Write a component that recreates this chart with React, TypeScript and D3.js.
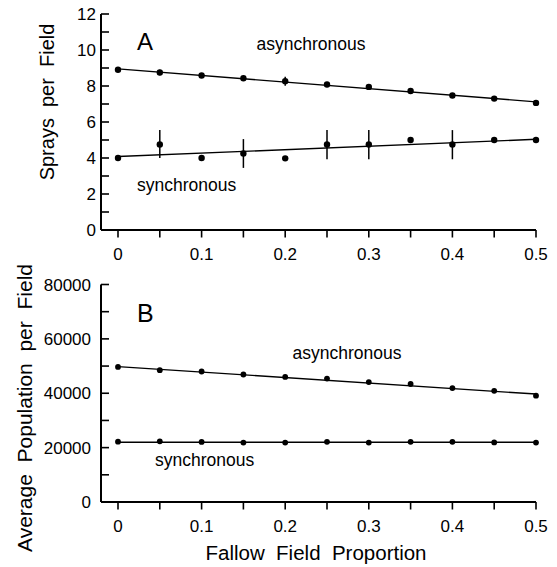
import React from "react";
import * as d3 from "d3";

const proportions = [0, 0.05, 0.1, 0.15, 0.2, 0.25, 0.3, 0.35, 0.4, 0.45, 0.5];

// Panel A: sprays per field
const spraysAsync = [8.9, 8.75, 8.58, 8.43, 8.27, 8.08, 7.95, 7.72, 7.47, 7.3, 7.06];
const spraysAsyncLow = [8.9, 8.6, 8.58, 8.43, 8.02, 8.08, 7.95, 7.58, 7.47, 7.2, 7.06];
const spraysAsyncHigh = [8.9, 8.9, 8.58, 8.43, 8.52, 8.08, 7.95, 7.86, 7.47, 7.4, 7.06];
const spraysSync = [4.0, 4.75, 4.0, 4.25, 3.98, 4.75, 4.75, 5.0, 4.75, 5.0, 5.0];
const spraysSyncLow = [4.0, 4.0, 4.0, 3.45, 3.98, 3.93, 3.93, 5.0, 3.93, 5.0, 5.0];
const spraysSyncHigh = [4.0, 5.55, 4.0, 5.05, 3.98, 5.55, 5.55, 5.0, 5.55, 5.0, 5.0];
const spraysAsyncFit = [8.95, 7.12];
const spraysSyncFit = [4.08, 5.04];

// Panel B: average population per field
const popAsync = [49700, 48500, 48000, 46900, 46000, 45400, 44100, 43400, 41900, 40900, 39100];
const popAsyncLow = [49700, 48100, 48000, 46900, 46000, 45400, 44100, 43400, 41900, 40300, 39100];
const popAsyncHigh = [49700, 48900, 48000, 46900, 46000, 45400, 44100, 43400, 41900, 41500, 39100];
const popSync = [22200, 22300, 22100, 21850, 21850, 22150, 21850, 22150, 22150, 21900, 21850];
const popAsyncFit = [49800, 39700];
const popSyncFit = [22000, 22000];

const xMajorTicks = [0, 0.1, 0.2, 0.3, 0.4, 0.5];
const xMinorTicks = [0, 0.05, 0.1, 0.15, 0.2, 0.25, 0.3, 0.35, 0.4, 0.45, 0.5];
const sprayTicks = [0, 2, 4, 6, 8, 10, 12];
const sprayMinor = [1, 3, 5, 7, 9, 11];
const popTicks = [0, 20000, 40000, 60000, 80000];
const popMinor = [10000, 30000, 50000, 70000];

const FONT = "'Liberation Sans', Arial, Helvetica, sans-serif";

type PanelProps = {
  yDomain: [number, number];
  yRange: [number, number];
  yTicks: number[];
  yMinor: number[];
  labelRight: number;
  tickLabelBaseline: number;
  series: { v: number[]; lo?: number[]; hi?: number[]; fit: number[] }[];
  r: number;
};

const x = d3.scaleLinear().domain([0, 0.5]).range([118, 536]);
const AXIS_LEFT = 101;
const AXIS_RIGHT = 536;

function Panel({ yDomain, yRange, yTicks, yMinor, labelRight, tickLabelBaseline, series, r }: PanelProps) {
  const y = d3.scaleLinear().domain(yDomain).range(yRange);
  const y0 = y(yDomain[0]);
  const line = d3
    .line<[number, number]>()
    .x((d) => x(d[0]))
    .y((d) => y(d[1]));
  return (
    <g>
      {/* axes */}
      <line x1={AXIS_LEFT} x2={AXIS_LEFT} y1={y(yDomain[1])} y2={y0} stroke="#000" strokeWidth={2} />
      <line x1={AXIS_LEFT} x2={AXIS_RIGHT} y1={y0} y2={y0} stroke="#000" strokeWidth={2} />
      {[...yTicks, ...yMinor].map((t) => (
        <line key={"yt" + t} x1={AXIS_LEFT} x2={AXIS_LEFT + 8} y1={y(t)} y2={y(t)} stroke="#000" strokeWidth={1.6} />
      ))}
      {yTicks.map((t) => (
        <text key={"yl" + t} x={labelRight} y={y(t)} dy="0.36em" textAnchor="end" fontSize={17} fontFamily={FONT}>
          {String(t)}
        </text>
      ))}
      {xMinorTicks.map((t) => (
        <line key={"xt" + t} x1={x(t)} x2={x(t)} y1={y0} y2={y0 + 7.5} stroke="#000" strokeWidth={1.6} />
      ))}
      {xMajorTicks.map((t) => (
        <text key={"xl" + t} x={x(t)} y={tickLabelBaseline} textAnchor="middle" fontSize={17} fontFamily={FONT}>
          {String(t)}
        </text>
      ))}
      {series.map((s, i) => (
        <g key={"s" + i}>
          <path
            d={line([
              [proportions[0], s.fit[0]],
              [proportions[proportions.length - 1], s.fit[1]],
            ]) || ""}
            fill="none"
            stroke="#000"
            strokeWidth={1.4}
          />
          {s.lo &&
            s.hi &&
            proportions.map((p, j) =>
              s.hi![j] - s.lo![j] > 0 ? (
                <line key={"e" + j} x1={x(p)} x2={x(p)} y1={y(s.lo![j])} y2={y(s.hi![j])} stroke="#000" strokeWidth={1.5} />
              ) : null
            )}
          {proportions.map((p, j) => (
            <circle key={"c" + j} cx={x(p)} cy={y(s.v[j])} r={r} fill="#000" />
          ))}
        </g>
      ))}
    </g>
  );
}

export default function App() {
  return (
    <svg width={557} height={567} style={{ display: "block", position: "absolute", left: 0, top: 0, background: "#fff" }}>
      <rect width={557} height={567} fill="#fff" />
      <Panel
        yDomain={[0, 12]}
        yRange={[230, 14]}
        yTicks={sprayTicks}
        yMinor={sprayMinor}
        labelRight={96}
        tickLabelBaseline={259.5}
        r={3.2}
        series={[
          { v: spraysAsync, lo: spraysAsyncLow, hi: spraysAsyncHigh, fit: spraysAsyncFit },
          { v: spraysSync, lo: spraysSyncLow, hi: spraysSyncHigh, fit: spraysSyncFit },
        ]}
      />
      <Panel
        yDomain={[0, 80000]}
        yRange={[502, 284.5]}
        yTicks={popTicks}
        yMinor={popMinor}
        labelRight={91}
        tickLabelBaseline={531.5}
        r={2.9}
        series={[
          { v: popAsync, lo: popAsyncLow, hi: popAsyncHigh, fit: popAsyncFit },
          { v: popSync, fit: popSyncFit },
        ]}
      />
      {/* panel letters and annotations */}
      <text x={137} y={50} fontSize={24} fontFamily={FONT}>A</text>
      <text x={137} y={321.5} fontSize={25} fontFamily={FONT}>B</text>
      <text x={256.5} y={50} fontSize={17.5} fontFamily={FONT}>asynchronous</text>
      <text x={137} y={191} fontSize={17.5} fontFamily={FONT}>synchronous</text>
      <text x={292.5} y={358.5} fontSize={17.5} fontFamily={FONT}>asynchronous</text>
      <text x={155} y={466} fontSize={17.5} fontFamily={FONT}>synchronous</text>
      {/* axis titles */}
      <text
        transform="translate(54,102) rotate(-90)"
        textAnchor="middle"
        fontSize={20}
        fontFamily={FONT}
        style={{ whiteSpace: "pre" }}
      >
        {"Sprays  per  Field"}
      </text>
      <text
        transform="translate(32,408) rotate(-90)"
        textAnchor="middle"
        fontSize={21}
        fontFamily={FONT}
        style={{ whiteSpace: "pre" }}
      >
        {"Average  Population  per  Field"}
      </text>
      <text x={316} y={560} textAnchor="middle" fontSize={20.5} fontFamily={FONT} style={{ whiteSpace: "pre" }}>
        {"Fallow  Field  Proportion"}
      </text>
    </svg>
  );
}
